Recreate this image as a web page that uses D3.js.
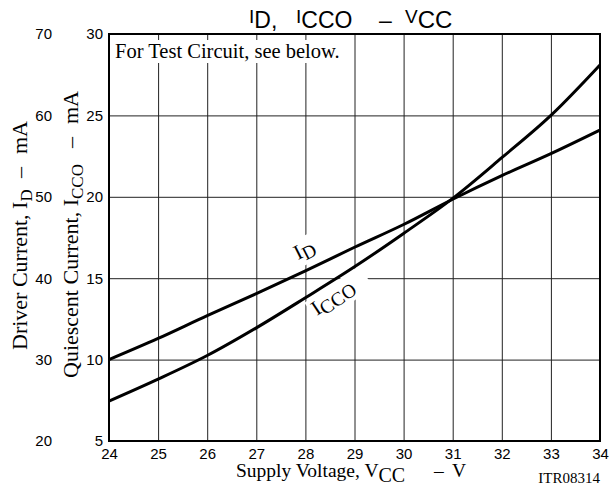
<!DOCTYPE html>
<html>
<head>
<meta charset="utf-8">
<script src="https://cdn.jsdelivr.net/npm/d3@7"></script>
<style>
  html, body { margin: 0; padding: 0; background: #fff; }
  svg { display: block; }
  .sans { font-family: "Liberation Sans", Arial, sans-serif; }
  .serif { font-family: "Liberation Serif", "Times New Roman", serif; }
</style>
</head>
<body>
<svg id="chart" width="610" height="486"></svg>
<script>
// Supply voltage (V) and the two measured currents (mA)
const voltage = [24, 25, 26, 27, 28, 29, 30, 31, 32, 33, 34];
const driverCurrent = [30, 32.6, 35.4, 38.1, 40.9, 43.8, 46.6, 49.7, 52.6, 55.3, 58.2];
const quiescentCurrent = [7.45, 8.8, 10.25, 11.95, 13.8, 15.7, 17.75, 19.9, 22.4, 25.0, 28.1];

// Tick labels
const voltageTicks = [24, 25, 26, 27, 28, 29, 30, 31, 32, 33, 34];
const driverTicks = [20, 30, 40, 50, 60, 70];
const quiescentTicks = [5, 10, 15, 20, 25, 30];

const svg = d3.select("#chart");
const plotLeft = 109, plotRight = 600, plotTop = 34, plotBottom = 441;

const x = d3.scaleLinear().domain([24, 34]).range([plotLeft, plotRight]);
const yQ = d3.scaleLinear().domain([5, 30]).range([plotBottom, plotTop]);
const yD = d3.scaleLinear().domain([20, 70]).range([plotBottom, plotTop]);

// Grid
const grid = svg.append("g");
grid.append("g")
  .attr("transform", `translate(0,${plotBottom})`)
  .call(d3.axisBottom(x).tickValues(voltageTicks).tickSize(-(plotBottom - plotTop)).tickFormat(""))
  .call(g => g.select(".domain").remove())
  .call(g => g.selectAll("line").attr("stroke", "#222").attr("stroke-width", 1));
grid.append("g")
  .attr("transform", `translate(${plotLeft},0)`)
  .call(d3.axisLeft(yQ).tickValues(quiescentTicks).tickSize(-(plotRight - plotLeft)).tickFormat(""))
  .call(g => g.select(".domain").remove())
  .call(g => g.selectAll("line").attr("stroke", "#222").attr("stroke-width", 1));

// White backing behind the in-plot notes
svg.append("rect")
  .attr("x", 111).attr("y", 40).attr("width", 240).attr("height", 23)
  .attr("fill", "#fff");

const labDPos = "translate(298,260) rotate(-27)";
const labQPos = "translate(317,316) rotate(-34)";
svg.append("rect")
  .attr("transform", labDPos)
  .attr("x", -3).attr("y", -19).attr("width", 32).attr("height", 27)
  .attr("fill", "#fff");
svg.append("rect")
  .attr("transform", labQPos)
  .attr("x", -3).attr("y", -18).attr("width", 66).attr("height", 26)
  .attr("fill", "#fff");

// Frame
svg.append("rect")
  .attr("x", plotLeft).attr("y", plotTop)
  .attr("width", plotRight - plotLeft).attr("height", plotBottom - plotTop)
  .attr("fill", "none").attr("stroke", "#000").attr("stroke-width", 2);

// Curves
const lineD = d3.line()
  .x((d, i) => x(voltage[i]))
  .y(d => yD(d))
  .curve(d3.curveMonotoneX);
const lineQ = d3.line()
  .x((d, i) => x(voltage[i]))
  .y(d => yQ(d))
  .curve(d3.curveMonotoneX);

svg.append("path").datum(driverCurrent)
  .attr("d", lineD).attr("fill", "none")
  .attr("stroke", "#000").attr("stroke-width", 3);
svg.append("path").datum(quiescentCurrent)
  .attr("d", lineQ).attr("fill", "none")
  .attr("stroke", "#000").attr("stroke-width", 3);

// Tick labels
const sansFont = "Liberation Sans, Arial, sans-serif";
svg.append("g")
  .attr("transform", `translate(0,${plotBottom})`)
  .call(d3.axisBottom(x).tickValues(voltageTicks).tickSize(0).tickPadding(7).tickFormat(d3.format("d")))
  .call(g => g.select(".domain").remove())
  .call(g => g.selectAll("text").attr("font-size", 15).attr("fill", "#000").attr("font-family", sansFont));

svg.append("g")
  .attr("transform", `translate(${plotLeft},0)`)
  .call(d3.axisLeft(yQ).tickValues(quiescentTicks).tickSize(0).tickPadding(6).tickFormat(d3.format("d")))
  .call(g => g.select(".domain").remove())
  .call(g => g.selectAll("text").attr("font-size", 15).attr("fill", "#000").attr("font-family", sansFont));

svg.append("g")
  .attr("transform", "translate(52,0)")
  .call(d3.axisLeft(yD).tickValues(driverTicks).tickSize(0).tickPadding(0).tickFormat(d3.format("d")))
  .call(g => g.select(".domain").remove())
  .call(g => g.selectAll("text").attr("font-size", 15).attr("fill", "#000").attr("font-family", sansFont));

// Title
const title = svg.append("text").attr("class", "sans").attr("y", 28).attr("font-size", 23);
title.append("tspan").attr("x", 249).attr("font-size", 19).attr("dy", -5).text("I");
title.append("tspan").attr("dy", 5).text("D,");
title.append("tspan").attr("x", 296).attr("font-size", 19).attr("dy", -5).text("I");
title.append("tspan").attr("dy", 5).text("CCO");
title.append("tspan").attr("x", 379).text("–");
title.append("tspan").attr("x", 405).attr("font-size", 19).attr("dy", -5).text("V");
title.append("tspan").attr("dy", 5).attr("font-size", 24).text("CC");

// Note
svg.append("text").attr("class", "serif")
  .attr("x", 115).attr("y", 58).attr("font-size", 20.5)
  .text("For Test Circuit, see below.");

// Curve labels
const labD = svg.append("text").attr("class", "serif")
  .attr("transform", labDPos).attr("font-size", 21);
labD.append("tspan").text("I");
labD.append("tspan").attr("font-size", 19).attr("dy", 4).text("D");

const labQ = svg.append("text").attr("class", "serif")
  .attr("transform", labQPos).attr("font-size", 21);
labQ.append("tspan").text("I");
labQ.append("tspan").attr("font-size", 19.5).attr("dy", 4).text("CCO");

// Axis titles
const xt = svg.append("text").attr("class", "serif").attr("y", 477).attr("font-size", 19.5);
xt.append("tspan").attr("x", 236).text("Supply Voltage, V");
xt.append("tspan").attr("dy", 5).attr("font-size", 20).text("CC");
xt.append("tspan").attr("x", 434).attr("dy", -5).text("–");
xt.append("tspan").attr("x", 452).text("V");

const yd = svg.append("text").attr("class", "serif")
  .attr("transform", "translate(27,350) rotate(-90)").attr("font-size", 22);
yd.append("tspan").attr("x", 0).text("Driver Current, I");
yd.append("tspan").attr("dy", 5).attr("font-size", 17).text("D");
yd.append("tspan").attr("x", 172).attr("dy", -5).text("–");
yd.append("tspan").attr("x", 196).text("mA");

const yq = svg.append("text").attr("class", "serif")
  .attr("transform", "translate(78,378) rotate(-90)").attr("font-size", 22);
yq.append("tspan").attr("x", 0).text("Quiescent Current, I");
yq.append("tspan").attr("dy", 5).attr("font-size", 17).text("CCO");
yq.append("tspan").attr("x", 230).attr("dy", -5).text("–");
yq.append("tspan").attr("x", 254).text("mA");

// Figure code
svg.append("text").attr("class", "serif")
  .attr("x", 600).attr("y", 483).attr("text-anchor", "end").attr("font-size", 15)
  .text("ITR08314");
</script>
</body>
</html>
